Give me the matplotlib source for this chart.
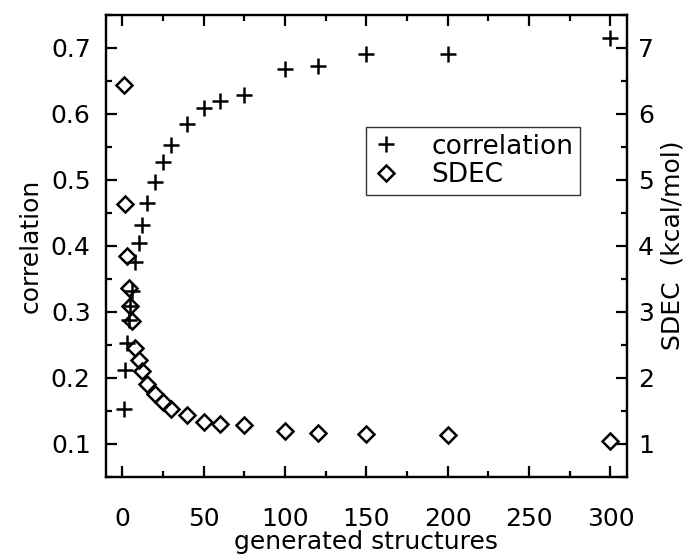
import matplotlib
matplotlib.use("Agg")
import matplotlib.pyplot as plt
from matplotlib.ticker import MultipleLocator

OUT_FILE = "out.png"

# generated structures (x)
n_struct = [1, 2, 3, 4, 5, 6, 8, 10, 12, 15, 20, 25, 30, 40, 50, 60, 75,
            100, 120, 150, 200, 300]

# correlation (left axis)
correlation = [0.153, 0.211, 0.252, 0.288, 0.308, 0.332, 0.375, 0.404,
               0.431, 0.465, 0.496, 0.527, 0.552, 0.585, 0.608, 0.619,
               0.629, 0.667, 0.673, 0.691, 0.691, 0.714]

# SDEC in kcal/mol (right axis)
sdec = [6.43, 4.63, 3.85, 3.36, 3.08, 2.86, 2.45, 2.27, 2.10, 1.91, 1.76,
        1.63, 1.53, 1.43, 1.33, 1.30, 1.28, 1.20, 1.16, 1.14, 1.13, 1.04]

FS = 18


def main():
    plt.rcParams["font.family"] = "DejaVu Sans"
    plt.rcParams["axes.linewidth"] = 1.6

    fig = plt.figure(figsize=(6.88, 5.54), dpi=100)
    ax = fig.add_axes([0.154, 0.1395, 0.757, 0.834])
    ax2 = ax.twinx()

    ax.plot(n_struct, correlation, linestyle="None", marker="+",
            markersize=12, markeredgewidth=1.8, color="black",
            label="correlation")
    ax2.plot(n_struct, sdec, linestyle="None", marker="D",
             markersize=8.5, markeredgewidth=1.8, markerfacecolor="none",
             color="black", label="SDEC")

    ax.set_xlim(-10, 310)
    ax.set_ylim(0.05, 0.75)
    ax2.set_ylim(0.5, 7.5)

    ax.xaxis.set_major_locator(MultipleLocator(50))
    ax.xaxis.set_minor_locator(MultipleLocator(25))
    ax.yaxis.set_major_locator(MultipleLocator(0.1))
    ax.yaxis.set_minor_locator(MultipleLocator(0.05))
    ax2.yaxis.set_major_locator(MultipleLocator(1))
    ax2.yaxis.set_minor_locator(MultipleLocator(0.5))

    ax.tick_params(axis="x", which="both", direction="in", top=True,
                   bottom=True, labelsize=FS, pad=22)
    ax.tick_params(axis="y", which="both", direction="in", left=True,
                   right=False, labelsize=FS, pad=11)
    ax2.tick_params(axis="y", which="both", direction="in", right=True,
                    labelsize=FS, pad=8)
    for a in (ax, ax2):
        a.tick_params(which="major", length=8, width=1.6)
        a.tick_params(which="minor", length=4, width=1.6)

    ax.set_xlabel("generated structures", fontsize=FS, labelpad=-1)
    ax.set_ylabel("correlation", fontsize=FS, labelpad=6)
    ax2.set_ylabel("SDEC  (kcal/mol)", fontsize=FS, labelpad=5)

    h1, l1 = ax.get_legend_handles_labels()
    h2, l2 = ax2.get_legend_handles_labels()
    leg = ax2.legend(h1 + h2, l1 + l2, loc="upper left",
                     bbox_to_anchor=(0.50, 0.757), borderaxespad=0,
                     fontsize=19, frameon=True, fancybox=False,
                     edgecolor="black", handlelength=1.0,
                     handletextpad=1.2, borderpad=0.25, labelspacing=0.1)
    leg.get_frame().set_linewidth(1.0)

    fig.savefig(OUT_FILE, dpi=100)


if __name__ == "__main__":
    main()
